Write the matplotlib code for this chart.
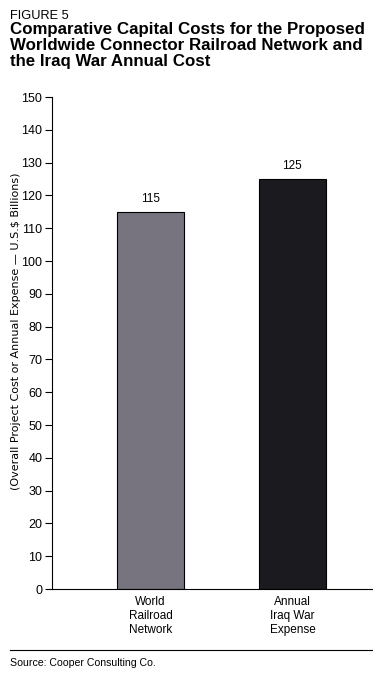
import matplotlib
matplotlib.use('Agg')
import matplotlib.pyplot as plt

# Chart data
categories = ['World\nRailroad\nNetwork', 'Annual\nIraq War\nExpense']
values = [115, 125]
bar_colors = ['#78747f', '#1b1a1f']
y_ticks = list(range(0, 151, 10))

plt.rcParams['font.family'] = ['Liberation Sans', 'DejaVu Sans']

fig = plt.figure(figsize=(3.73, 6.82), dpi=100)
ax = fig.add_axes([52 / 373, 1 - 589 / 682, 321 / 373, 492 / 682])

x = range(len(values))
bars = ax.bar(x, values, width=0.472, color=bar_colors, edgecolor='black', linewidth=0.8)
for rect, v in zip(bars, values):
    ax.text(rect.get_x() + rect.get_width() / 2, v + 2.0, str(v),
            ha='center', va='bottom', fontsize=8.5)

ax.set_xlim(-0.694, 1.568)
ax.set_ylim(0, 150)
ax.set_yticks(y_ticks)
ax.tick_params(axis='y', labelsize=9, length=5, width=0.8, pad=2)
ax.set_xticks(list(x))
ax.set_xticklabels(categories, fontsize=8.5, linespacing=1.25)
ax.tick_params(axis='x', length=0, pad=5)
for side in ['top', 'right']:
    ax.spines[side].set_visible(False)
ax.spines['left'].set_linewidth(0.8)
ax.spines['bottom'].set_linewidth(0.8)

# axis title, slightly wider face to match the original's spread
fig.text(16 / 373, 1 - 331 / 682,
         '(Overall Project Cost or Annual Expense \u2014 U.S.$ Billions)',
         rotation=90, fontsize=8, ha='center', va='center', family='DejaVu Sans')

fig.text(10 / 373, 1 - 16 / 682, 'FIGURE 5', fontsize=9.2, va='center', ha='left')
fig.text(10 / 373, 1 - 22 / 682,
         'Comparative Capital Costs for the Proposed\nWorldwide Connector Railroad Network and\nthe Iraq War Annual Cost',
         fontsize=12.2, fontweight='bold', va='top', ha='left', linespacing=1.1)

fig.add_artist(plt.Line2D([10 / 373, 1], [1 - 650 / 682] * 2, color='black', linewidth=0.8))
fig.text(10 / 373, 1 - 663 / 682, 'Source: Cooper Consulting Co.', fontsize=7.6, va='center', ha='left')

fig.savefig('out.png', dpi=100)
